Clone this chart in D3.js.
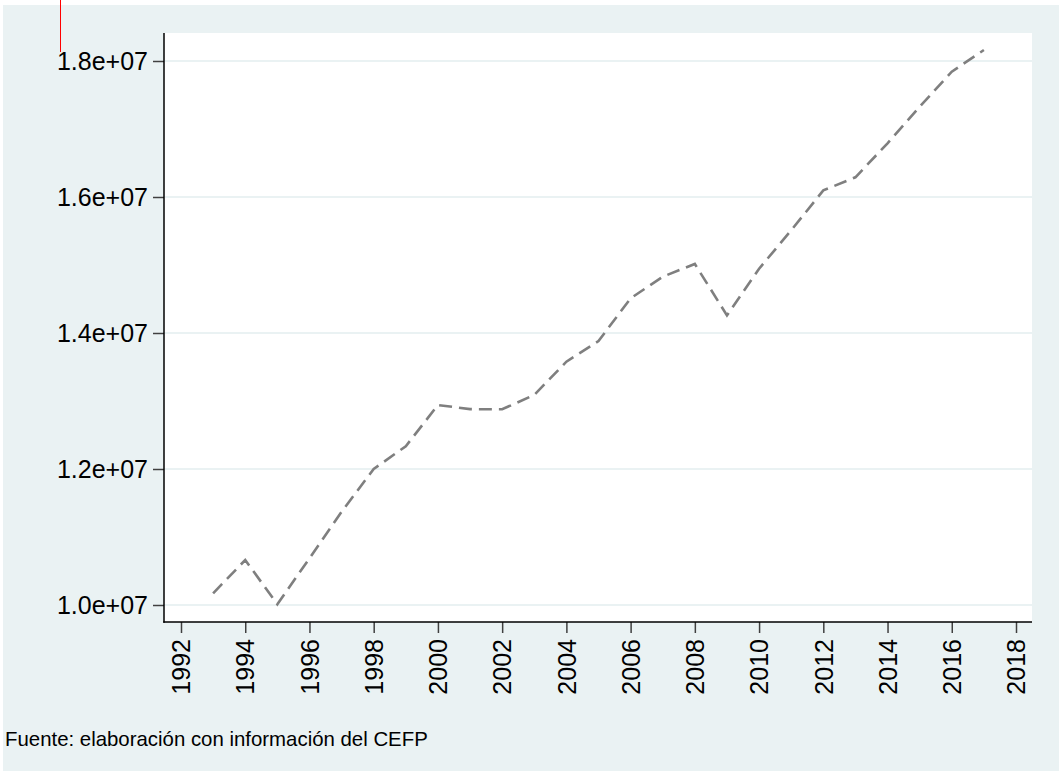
<!DOCTYPE html>
<html>
<head>
<meta charset="utf-8">
<script src="https://cdn.jsdelivr.net/npm/d3@7"></script>
<style>
  html, body { margin: 0; padding: 0; background: #ffffff; }
  svg { display: block; font-family: "Liberation Sans", Arial, sans-serif; }
</style>
</head>
<body>
<svg id="chart" width="1059" height="771"></svg>
<script>
const years = [1993,1994,1995,1996,1997,1998,1999,2000,2001,2002,2003,2004,2005,2006,2007,2008,2009,2010,2011,2012,2013,2014,2015,2016,2017];
const values = [10172000,10662000,10010000,10686000,11370000,12000000,12335000,12941000,12880000,12878000,13090000,13578000,13882000,14510000,14828000,15015000,14260000,14945000,15510000,16098000,16290000,16790000,17328000,17843000,18162000];
const xTicks = [1992,1994,1996,1998,2000,2002,2004,2006,2008,2010,2012,2014,2016,2018];
const yTicks = [10000000,12000000,14000000,16000000,18000000];
const yTickLabels = ["1.0e+07","1.2e+07","1.4e+07","1.6e+07","1.8e+07"];
const footnote = "Fuente: elaboración con información del CEFP";

const svg = d3.select("#chart");
const W = 1059, H = 771;
const plot = { left: 164, right: 1032, top: 33, bottom: 622 };

const x = d3.scaleLinear().domain([1992, 2018]).range([181, 1016]);
const y = d3.scaleLinear().domain([10000000, 18000000]).range([605, 61]);

// outer background
svg.append("rect").attr("x", 3).attr("y", 5).attr("width", W - 3).attr("height", H - 5).attr("fill", "#eaf2f3");
// plot region
svg.append("rect").attr("x", plot.left).attr("y", plot.top)
  .attr("width", plot.right - plot.left).attr("height", plot.bottom - plot.top).attr("fill", "#ffffff");

// gridlines
svg.append("g").selectAll("line").data(yTicks).join("line")
  .attr("x1", plot.left).attr("x2", plot.right)
  .attr("y1", d => y(d)).attr("y2", d => y(d))
  .attr("stroke", "#eaf2f3").attr("stroke-width", 2);

// line
const line = d3.line().x((d, i) => x(years[i])).y(d => y(d));
svg.append("path").datum(values)
  .attr("d", line)
  .attr("fill", "none")
  .attr("stroke", "#7f7f7f")
  .attr("stroke-width", 2.6)
  .attr("stroke-dasharray", "13,7");

// y axis
const yAxis = d3.axisLeft(y).tickValues(yTicks).tickSize(11).tickPadding(5)
  .tickFormat((d, i) => yTickLabels[i]);
const gy = svg.append("g").attr("transform", `translate(${plot.left},0)`).call(yAxis);
gy.select(".domain").remove();
gy.selectAll(".tick line").attr("stroke", "#404040").attr("stroke-width", 1.5);
gy.selectAll(".tick text").attr("font-size", 25).attr("fill", "#000").attr("dy", "0.35em");

// x axis
const xAxis = d3.axisBottom(x).tickValues(xTicks).tickSize(11).tickFormat(d3.format("d"));
const gx = svg.append("g").attr("transform", `translate(0,${plot.bottom})`).call(xAxis);
gx.select(".domain").remove();
gx.selectAll(".tick line").attr("stroke", "#404040").attr("stroke-width", 1.5);
gx.selectAll(".tick text")
  .attr("font-size", 25).attr("fill", "#000")
  .attr("text-anchor", "end")
  .attr("transform", "rotate(-90)")
  .attr("x", -17).attr("y", 0).attr("dy", "0.35em");

// axis lines
svg.append("line").attr("x1", plot.left).attr("x2", plot.left).attr("y1", plot.top).attr("y2", plot.bottom + 0.75)
  .attr("stroke", "#000").attr("stroke-width", 1.5);
svg.append("line").attr("x1", plot.left - 0.75).attr("x2", plot.right).attr("y1", plot.bottom).attr("y2", plot.bottom)
  .attr("stroke", "#000").attr("stroke-width", 1.5);

// footnote
svg.append("text").attr("x", 5).attr("y", 746).attr("font-size", 20.4).attr("fill", "#000").text(footnote);

// red marker line at top-left
svg.append("line").attr("x1", 60.5).attr("x2", 60.5).attr("y1", 0).attr("y2", 52)
  .attr("stroke", "#ff0000").attr("stroke-width", 1);
</script>
</body>
</html>
